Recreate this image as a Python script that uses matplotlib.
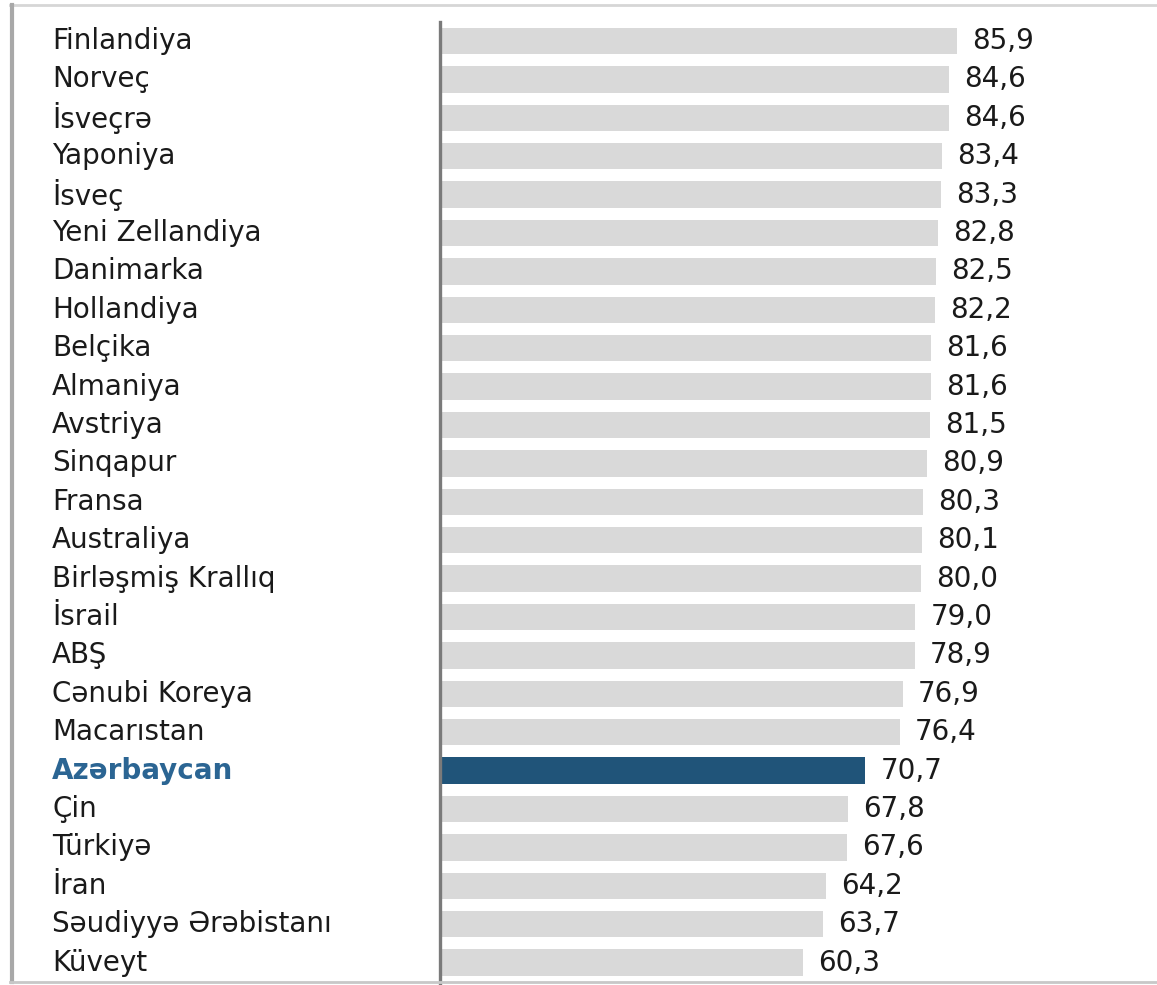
import matplotlib
matplotlib.use('Agg')
import matplotlib.pyplot as plt
import matplotlib.transforms as mtransforms
from matplotlib.lines import Line2D

countries = ['Finlandiya', 'Norveç', 'İsveçrə', 'Yaponiya', 'İsveç',
             'Yeni Zellandiya', 'Danimarka', 'Hollandiya', 'Belçika',
             'Almaniya', 'Avstriya', 'Sinqapur', 'Fransa', 'Australiya',
             'Birləşmiş Krallıq', 'İsrail', 'ABŞ', 'Cənubi Koreya',
             'Macarıstan', 'Azərbaycan', 'Çin', 'Türkiyə', 'İran',
             'Səudiyyə Ərəbistanı', 'Küveyt']
values = [85.9, 84.6, 84.6, 83.4, 83.3, 82.8, 82.5, 82.2, 81.6, 81.6,
          81.5, 80.9, 80.3, 80.1, 80.0, 79.0, 78.9, 76.9, 76.4, 70.7,
          67.8, 67.6, 64.2, 63.7, 60.3]
highlight = 'Azərbaycan'

W, H = 1157, 985
fig = plt.figure(figsize=(W / 100, H / 100), dpi=100)
plt.rcParams['font.family'] = ['DejaVu Sans']

# axes: x=0 sits at pixel 440, ~6.0 px per unit; rows 38.4 px apart starting at y=41
x0_pix, px_per_unit = 440, 6.016
row0, pitch = 41, 38.4
ax = fig.add_axes([x0_pix / W, 0, (W - x0_pix) / W, 1])
ax.set_xlim(0, (W - x0_pix) / px_per_unit)
ax.set_ylim((H - row0) / pitch, -row0 / pitch)

bar_col = '#d9d9d9'
hi_col = '#205479'
colors = [hi_col if c == highlight else bar_col for c in countries]
ypos = list(range(len(countries)))
ax.barh(ypos, values, height=0.69, color=colors, zorder=2)

for s in ['top', 'right', 'bottom']:
    ax.spines[s].set_visible(False)
ax.spines['left'].set_color('#7a7a7a')
ax.spines['left'].set_linewidth(2.4)
ax.spines['left'].set_bounds((H - row0) / pitch, (22 - row0) / pitch)
ax.spines['left'].set_zorder(3)
ax.set_xticks([])
ax.set_yticks([])

trans = mtransforms.blended_transform_factory(fig.transFigure, ax.transData)
for y, c, v in zip(ypos, countries, values):
    if c == highlight:
        ax.text(52 / W, y, c, transform=trans, ha='left', va='center',
                fontsize=20, color='#2b6593', fontweight='bold')
    else:
        ax.text(52 / W, y, c, transform=trans, ha='left', va='center',
                fontsize=20, color='#1a1a1a')
    ax.annotate(f'{v:.1f}'.replace('.', ','), xy=(v, y), xytext=(11, 0),
                textcoords='offset points', ha='left', va='center',
                fontsize=20, color='#1a1a1a')

# light frame around the chart
fig.add_artist(Line2D([10 / W, 1], [1 - 5 / H, 1 - 5 / H],
                      transform=fig.transFigure, color='#d6d6d6', lw=2))
fig.add_artist(Line2D([12 / W, 12 / W], [1 - 5 / H, 1 - 982 / H],
                      transform=fig.transFigure, color='#a8a8a8', lw=3))
fig.add_artist(Line2D([10 / W, 1], [1 - 982 / H, 1 - 982 / H],
                      transform=fig.transFigure, color='#c8c8c8', lw=2))

fig.savefig('out.png', dpi=100)
